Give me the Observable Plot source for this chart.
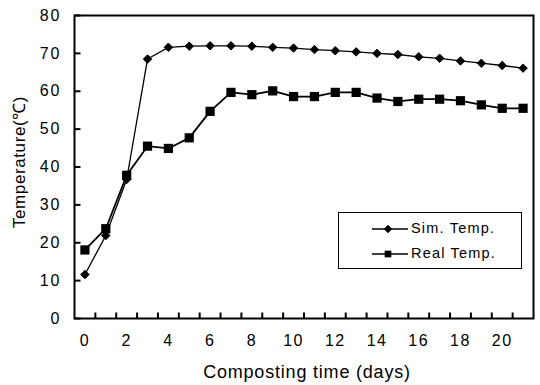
<!DOCTYPE html>
<html><head><meta charset="utf-8">
<script src="https://cdn.jsdelivr.net/npm/d3@7"></script>
<script src="https://cdn.jsdelivr.net/npm/@observablehq/plot@0.6"></script>
<style>
body{margin:0;background:#fff;font-family:Arial,"Liberation Sans",sans-serif}
#wrap{position:relative;width:540px;height:385px}
</style></head><body><div id="wrap"></div>
<script>
const days = [0,1,2,3,4,5,6,7,8,9,10,11,12,13,14,15,16,17,18,19,20,21];
const simTemp = [11.6,21.9,36.7,68.5,71.6,71.9,72.0,72.0,71.9,71.6,71.4,71.0,70.7,70.4,70.0,69.7,69.1,68.7,68.0,67.4,66.8,66.1];
const realTemp = [18.1,23.7,37.8,45.5,44.9,47.7,54.7,59.7,59.1,60.1,58.6,58.6,59.7,59.7,58.2,57.3,57.9,57.9,57.5,56.4,55.5,55.5];
const xTickLabels = [0,2,4,6,8,10,12,14,16,18,20];
const xBoundaries = [0.5,1.5,2.5,3.5,4.5,5.5,6.5,7.5,8.5,9.5,10.5,11.5,12.5,13.5,14.5,15.5,16.5,17.5,18.5,19.5,20.5];
const yTicks = [0,10,20,30,40,50,60,70,80];
const seriesNames = ["Sim. Temp.","Real Temp."];
const xTitle = "Composting time (days)";
const yTitle = "Temperature(\u2103)";

const sim = days.map((d,i)=>({day:d, value:simTemp[i]}));
const real = days.map((d,i)=>({day:d, value:realTemp[i]}));

const W = 540, H = 385, mL = 74, mR = 7, mT = 15, mB = 67;
const tickLen = 6;
const xDom = [-0.5, 21.5], yDom = [0, 80];
const tickDY = (yDom[1]-yDom[0]) * tickLen / (H-mT-mB);
const tickDX = (xDom[1]-xDom[0]) * tickLen / (W-mL-mR);
const xTickRows = xBoundaries.map(v=>({x:v, y1:yDom[0], y2:yDom[0]+tickDY}));
const yTickRows = yTicks.map(v=>({y:v, x1:xDom[0], x2:xDom[0]+tickDX}));

const chart = Plot.plot({
  width:W, height:H,
  marginLeft:mL, marginRight:mR, marginTop:mT, marginBottom:mB,
  x:{domain:xDom},
  y:{domain:yDom},
  style:{fontFamily:"Arial, 'Liberation Sans', sans-serif", fontSize:"16px", color:"#000", background:"#fff"},
  marks:[
    Plot.axisX(xTickLabels,{tickSize:0, tickPadding:16, fontSize:16, label:null}),
    Plot.axisY(yTicks,{tickSize:0, tickPadding:13, fontSize:16, label:null}),
    Plot.line(sim,{x:"day", y:"value", stroke:"#000", strokeWidth:1.3}),
    Plot.line(real,{x:"day", y:"value", stroke:"#000", strokeWidth:1.8}),
    Plot.dot(sim,{x:"day", y:"value", symbol:"diamond2", fill:"#000", stroke:"#000", strokeWidth:1, r:3.8}),
    Plot.dot(real,{x:"day", y:"value", symbol:"square", fill:"#000", r:5.2}),
    Plot.frame({stroke:"#000", strokeWidth:2}),
    Plot.link(xTickRows,{x1:"x", x2:"x", y1:"y1", y2:"y2", stroke:"#000", strokeWidth:2}),
    Plot.link(yTickRows,{y1:"y", y2:"y", x1:"x1", x2:"x2", stroke:"#000", strokeWidth:2})
  ]
});
document.getElementById("wrap").appendChild(chart);

const svg = d3.select(chart);
svg.selectAll("g[aria-label='x-axis tick label'] text").attr("letter-spacing","1.5px");
svg.selectAll("g[aria-label='y-axis tick label'] text").attr("letter-spacing","2px");

svg.append("text").attr("transform","translate(21,162) rotate(-90)")
  .attr("text-anchor","middle").attr("dominant-baseline","middle")
  .attr("font-size",17).attr("letter-spacing","0.6px").attr("fill","#000").text(yTitle);
svg.append("text").attr("x",307).attr("y",373)
  .attr("text-anchor","middle").attr("dominant-baseline","middle")
  .attr("font-size",18).attr("letter-spacing","0.8px").attr("fill","#000").text(xTitle);

// legend
const lg = svg.append("g");
lg.append("rect").attr("x",338.5).attr("y",212.5).attr("width",183).attr("height",56)
  .attr("fill","#fff").attr("stroke","#000").attr("stroke-width",1);
const syms = [d3.symbolDiamond2, d3.symbolSquare];
const sizes = [Math.PI*3.3*3.3, 45];
seriesNames.forEach((name,i)=>{
  const yy = 229 + i*25;
  lg.append("line").attr("x1",372).attr("x2",408).attr("y1",yy).attr("y2",yy)
    .attr("stroke","#000").attr("stroke-width",1.3);
  lg.append("path").attr("d",d3.symbol(syms[i], sizes[i])())
    .attr("transform",`translate(388,${yy})`).attr("fill","#000").attr("stroke","#000").attr("stroke-width",i?0:1);
  lg.append("text").attr("x",411).attr("y",yy).attr("text-anchor","start").attr("dominant-baseline","middle")
    .attr("font-size",14.5).attr("letter-spacing","1.2px").attr("fill","#000").text(name);
});
</script>
</body></html>
